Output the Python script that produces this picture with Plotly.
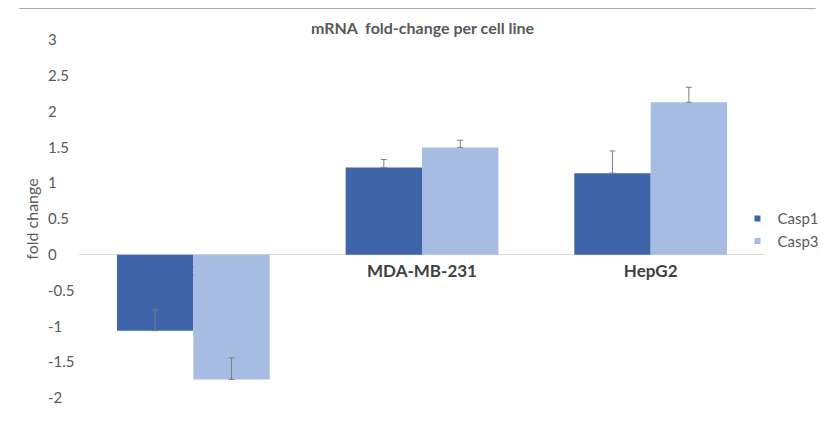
import plotly.graph_objects as go

categories = ["MCF-7", "MDA-MB-231", "HepG2"]
casp1 = [-1.06, 1.22, 1.14]
casp3 = [-1.74, 1.50, 2.13]
casp1_err = [0.29, 0.11, 0.31]
casp3_err = [0.30, 0.10, 0.21]
y_ticks = [3, 2.5, 2, 1.5, 1, 0.5, 0, -0.5, -1, -1.5, -2]
y_ticklabels = ["3", "2.5", "2", "1.5", "1", "0.5", "0", "-0.5", "-1", "-1.5", "-2"]
series_names = ["Casp1", "Casp3"]
series_colors = ["#3E64AA", "#A6BCE2"]

FONT = "Lato"
GRAY = "#595959"

def err(vals):
    return dict(type="data", array=vals, arrayminus=[0] * len(vals), symmetric=False,
                color="#7f7f7f", thickness=1, width=3)

fig = go.Figure()
for name, vals, errs, col in zip(series_names, [casp1, casp3], [casp1_err, casp3_err], series_colors):
    fig.add_trace(go.Bar(name=name, x=categories, y=vals, error_y=err(errs),
                         marker=dict(color=col, line=dict(width=0)), showlegend=False))
# legend entries with small square keys
for name, col in zip(series_names, series_colors):
    fig.add_trace(go.Scatter(name=name, x=[None], y=[None], mode="markers",
                             marker=dict(symbol="square", size=6, color=col),
                             showlegend=True, hoverinfo="skip"))

fig.update_layout(
    width=818, height=422,
    margin=dict(l=33, r=61, t=32, b=32, autoexpand=False),
    paper_bgcolor="white", plot_bgcolor="white",
    barmode="group", bargap=0.332, bargroupgap=0,
    font=dict(family=FONT, color=GRAY, size=15),
    title=dict(text="<b>mRNA  fold-change per cell line</b>", xref="paper", x=0.527,
               xanchor="center", yref="container", y=0.952, yanchor="middle",
               font=dict(family=FONT, size=16, color=GRAY)),
    showlegend=True,
    legend=dict(x=0.962, xanchor="left", y=0.47, yanchor="middle", itemwidth=30,
                font=dict(family=FONT, size=15, color=GRAY), tracegroupgap=0,
                bgcolor="rgba(0,0,0,0)"),
    xaxis=dict(domain=[0.0525, 1], anchor="free", position=0.4, layer="below traces",
               showline=False, ticks="", showgrid=False, zeroline=False,
               ticklabelstandoff=4,
               tickfont=dict(family=FONT, size=17, color="#404040", weight="bold")),
    yaxis=dict(range=[-2, 3], anchor="free", position=0, tickvals=y_ticks,
               ticktext=y_ticklabels, showgrid=False, ticklabelposition="inside",
               ticklabeloverflow="allow", ticklabelstandoff=3,
               zeroline=True, zerolinecolor="#d9d9d9", zerolinewidth=1, showline=False,
               ticks="",
               title=dict(text="fold change", font=dict(family=FONT, size=16, color=GRAY),
                          standoff=4),
               tickfont=dict(family=FONT, size=15, color=GRAY)),
    shapes=[dict(type="line", xref="paper", yref="paper", x0=-0.03, x1=1.07,
                 y0=1.088, y1=1.088, line=dict(color="#a6a6a6", width=1))],
)

fig.write_html("out.html")
